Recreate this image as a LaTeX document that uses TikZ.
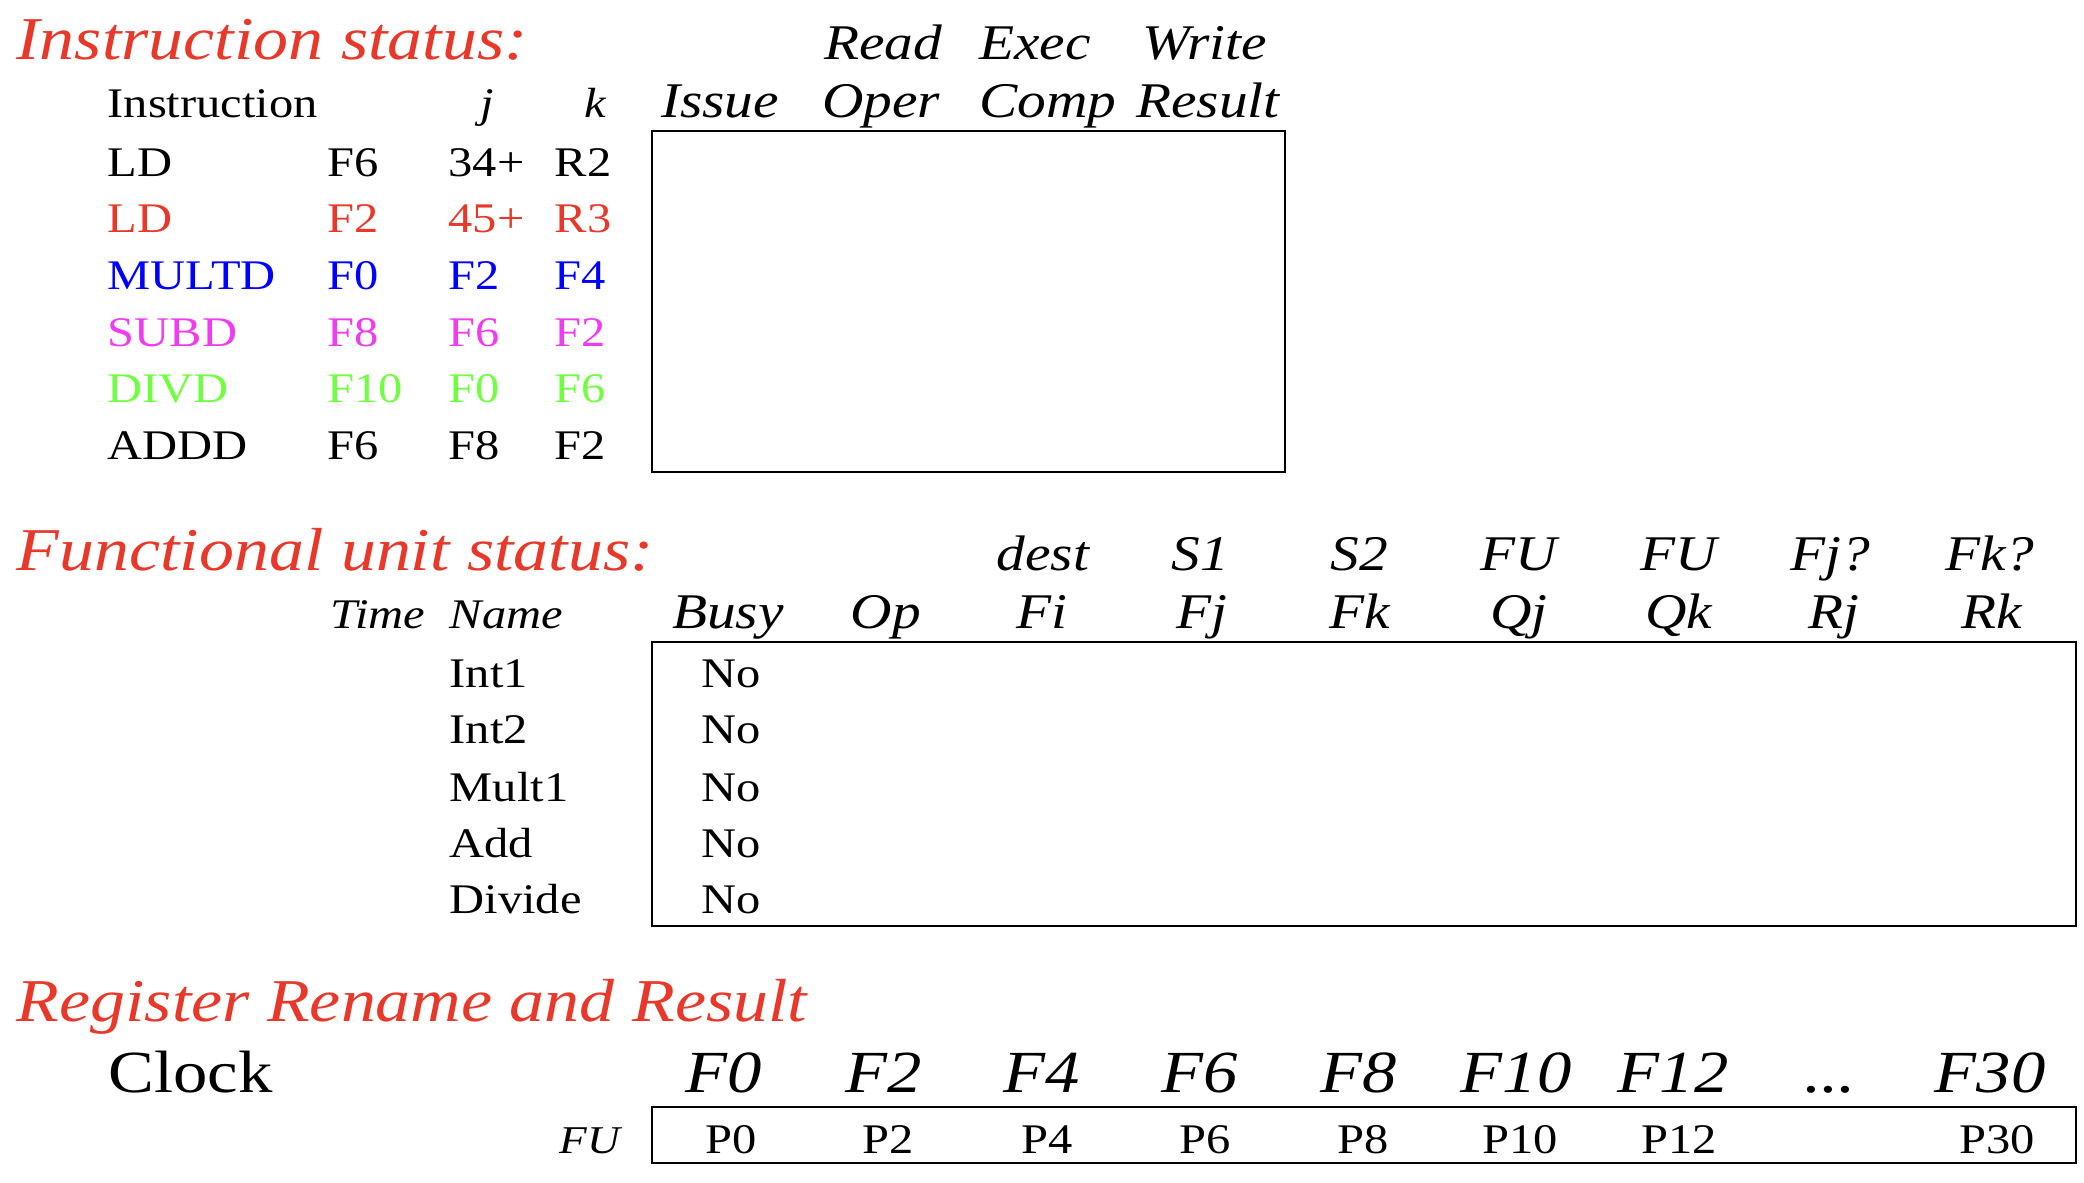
\documentclass[tikz,border=0pt]{standalone}
\usepackage{fontspec}
\setmainfont{Liberation Serif}[FakeStretch=1.15]
\definecolor{titlered}{RGB}{232,56,42}
\definecolor{opblue}{RGB}{0,0,255}
\definecolor{opmagenta}{RGB}{240,60,240}
\definecolor{opgreen}{RGB}{112,255,64}
\tikzset{
    title/.style={anchor=base west, inner sep=0pt, text=titlered, font=\fontsize{17.3}{20}\selectfont\itshape},
    head/.style={anchor=base, inner sep=0pt, font=\fontsize{14.2}{17}\selectfont\itshape},
    cell/.style={anchor=base west, inner sep=0pt, font=\fontsize{12}{14}\selectfont},
    mid/.style={anchor=base, inner sep=0pt, font=\fontsize{12}{14}\selectfont},
    big/.style={anchor=base, inner sep=0pt, font=\fontsize{17}{20}\selectfont\itshape},
    frame/.style={draw, line width=0.8pt}
}
\begin{document}
\begin{tikzpicture}
        \useasboundingbox (0, 0) rectangle (20.84, -11.82);

        \begin{scope}
            % Instruction Status
            \node[title] (ititle) at (0.16, -0.59) {Instruction status:};
            \node[head] (hread) at (8.83, -0.59) {Read};
            \node[head] (hexec) at (10.35, -0.59) {Exec};
            \node[head] (hwrite) at (12.05, -0.59) {Write};

            \node[cell, font=\fontsize{12}{14}\selectfont] (hinstr) at (1.07, -1.17) {Instruction};
            \node[head, font=\fontsize{12}{14}\selectfont\itshape] (hj) at (4.87, -1.17) {j};
            \node[head, font=\fontsize{12}{14}\selectfont\itshape] (hk) at (5.95, -1.17) {k};
            \node[head] (hissue) at (7.20, -1.17) {Issue};
            \node[head] (hoper) at (8.81, -1.17) {Oper};
            \node[head] (hcomp) at (10.48, -1.17) {Comp};
            \node[head] (hresult) at (12.08, -1.17) {Result};

            % Instructions
            \node[cell] (op1) at (1.07, -1.76) {LD};
            \node[cell] (d1) at (3.27, -1.76) {F6};
            \node[cell] (j1) at (4.48, -1.76) {34+};
            \node[cell] (k1) at (5.54, -1.76) {R2};
            \node[cell, text=titlered] (op2) at (1.07, -2.32) {LD};
            \node[cell, text=titlered] (d2) at (3.27, -2.32) {F2};
            \node[cell, text=titlered] (j2) at (4.48, -2.32) {45+};
            \node[cell, text=titlered] (k2) at (5.54, -2.32) {R3};
            \node[cell, text=opblue] (op3) at (1.07, -2.89) {MULTD};
            \node[cell, text=opblue] (d3) at (3.27, -2.89) {F0};
            \node[cell, text=opblue] (j3) at (4.48, -2.89) {F2};
            \node[cell, text=opblue] (k3) at (5.54, -2.89) {F4};
            \node[cell, text=opmagenta] (op4) at (1.07, -3.46) {SUBD};
            \node[cell, text=opmagenta] (d4) at (3.27, -3.46) {F8};
            \node[cell, text=opmagenta] (j4) at (4.48, -3.46) {F6};
            \node[cell, text=opmagenta] (k4) at (5.54, -3.46) {F2};
            \node[cell, text=opgreen] (op5) at (1.07, -4.02) {DIVD};
            \node[cell, text=opgreen] (d5) at (3.27, -4.02) {F10};
            \node[cell, text=opgreen] (j5) at (4.48, -4.02) {F0};
            \node[cell, text=opgreen] (k5) at (5.54, -4.02) {F6};
            \node[cell] (op6) at (1.07, -4.59) {ADDD};
            \node[cell] (d6) at (3.27, -4.59) {F6};
            \node[cell] (j6) at (4.48, -4.59) {F8};
            \node[cell] (k6) at (5.54, -4.59) {F2};

            % Status box
            \draw[frame] (6.52, -1.31) rectangle (12.85, -4.72);
        \end{scope}

        \begin{scope}
            % Functional Unit Status
            \node[title] (ftitle) at (0.16, -5.70) {Functional unit status:};
            \node[head] (hdest) at (10.43, -5.70) {dest};
            \node[head] (hs1) at (12.00, -5.70) {S1};
            \node[head] (hs2) at (13.59, -5.70) {S2};
            \node[head] (hfu1) at (15.19, -5.70) {FU};
            \node[head] (hfu2) at (16.79, -5.70) {FU};
            \node[head] (hfjq) at (18.30, -5.70) {Fj?};
            \node[head] (hfkq) at (19.90, -5.70) {Fk?};

            \node[cell, font=\fontsize{12}{14}\selectfont\itshape] (htime) at (3.30, -6.28) {Time};
            \node[cell, font=\fontsize{12}{14}\selectfont\itshape] (hname) at (4.49, -6.28) {Name};
            \node[head] (hbusy) at (7.28, -6.28) {Busy};
            \node[head] (hop) at (8.86, -6.28) {Op};
            \node[head] (hfi) at (10.42, -6.28) {Fi};
            \node[head] (hfj) at (12.02, -6.28) {Fj};
            \node[head] (hfk) at (13.60, -6.28) {Fk};
            \node[head] (hqj) at (15.19, -6.28) {Qj};
            \node[head] (hqk) at (16.79, -6.28) {Qk};
            \node[head] (hrj) at (18.34, -6.28) {Rj};
            \node[head] (hrk) at (19.92, -6.28) {Rk};

            % Units
            \node[cell] (int1) at (4.49, -6.87) {Int1};
            \node[mid] (busy1) at (7.31, -6.87) {No};
            \node[cell] (int2) at (4.49, -7.43) {Int2};
            \node[mid] (busy2) at (7.31, -7.43) {No};
            \node[cell] (mult1) at (4.49, -8.01) {Mult1};
            \node[mid] (busy3) at (7.31, -8.01) {No};
            \node[cell] (add) at (4.49, -8.57) {Add};
            \node[mid] (busy4) at (7.31, -8.57) {No};
            \node[cell] (divide) at (4.49, -9.13) {Divide};
            \node[mid] (busy5) at (7.31, -9.13) {No};

            % Status box
            \draw[frame] (6.52, -6.42) rectangle (20.76, -9.26);
        \end{scope}

        \begin{scope}
            % Register Rename and Result
            \node[title] (rtitle) at (0.16, -10.21) {Register Rename and Result};
            \node[cell, font=\fontsize{17}{20}\selectfont] (clock) at (1.08, -10.92) {Clock};

            \node[big] (f0) at (7.24, -10.92) {F0};
            \node[big] (f2) at (8.84, -10.92) {F2};
            \node[big] (f4) at (10.42, -10.92) {F4};
            \node[big] (f6) at (12.00, -10.92) {F6};
            \node[big] (f8) at (13.59, -10.92) {F8};
            \node[big] (f10) at (15.16, -10.92) {F10};
            \node[big] (f12) at (16.73, -10.92) {F12};
            \node[big] (fdots) at (18.30, -10.92) {...};
            \node[big] (f30) at (19.90, -10.92) {F30};

            % Mapping
            \node[anchor=base east, inner sep=0pt, font=\fontsize{11.2}{13}\selectfont\itshape] (hfu) at (6.21, -11.53) {FU};
            \node[mid] (p0) at (7.31, -11.53) {P0};
            \node[mid] (p2) at (8.88, -11.53) {P2};
            \node[mid] (p4) at (10.47, -11.53) {P4};
            \node[mid] (p6) at (12.05, -11.53) {P6};
            \node[mid] (p8) at (13.63, -11.53) {P8};
            \node[mid] (p10) at (15.20, -11.53) {P10};
            \node[mid] (p12) at (16.79, -11.53) {P12};
            \node[mid] (p30) at (19.97, -11.53) {P30};

            \draw[frame] (6.52, -11.07) rectangle (20.76, -11.63);
        \end{scope}
    \end{tikzpicture}
\end{document}
